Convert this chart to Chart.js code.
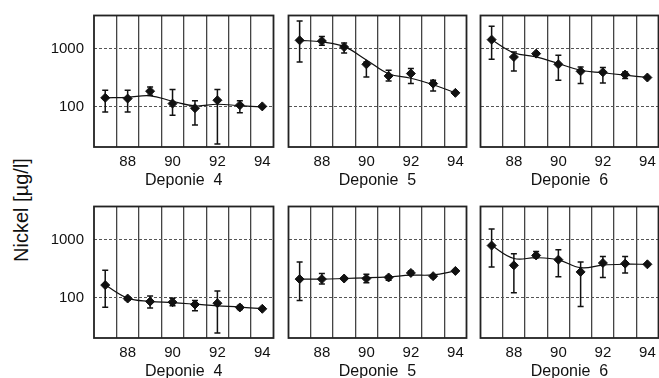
<!DOCTYPE html>
<html>
<head>
<meta charset="utf-8">
<script src="https://cdn.jsdelivr.net/npm/chart.js@4.4.0/dist/chart.umd.min.js"></script>
<style>
  body { margin: 0; background: #fff; width: 659px; height: 378px; overflow: hidden; position: relative; font-family: 'Liberation Sans', Arial, sans-serif; }
  .panel { position: absolute; }
  #ytitle { position: absolute; left: 21px; top: 210px; transform: translate(-50%, -50%) rotate(-90deg); font-size: 20px; white-space: nowrap; color: #111; }
</style>
</head>
<body>
<div id="ytitle">Nickel [µg/l]</div>
<script>
const years = [87, 88, 89, 90, 91, 92, 93, 94];
const yTicks = [100, 1000];
const xLabels = [88, 90, 92, 94];
const xGrid = [87.5, 88.5, 89.5, 90.5, 91.5, 92.5, 93.5];

// obere Reihe
const top4 = [143, 139, 186, 114, 95, 130, 107, 102];
const top4Lo = [82, 82, 159, 72, 49, 23, 79, null];
const top4Hi = [193, 193, 220, 199, 127, 199, 127, null];
const top4Fit = [143, 146, 155, 125, 104, 111, 105, 100];

const top5 = [1387, 1350, 1063, 538, 340, 373, 251, 174];
const top5Lo = [590, 1140, 840, 326, 279, 251, 188, null];
const top5Hi = [2970, 1620, 1250, 590, 425, 455, 286, null];
const top5Fit = [1390, 1300, 1080, 640, 370, 310, 240, 175];

const top6 = [1426, 718, 820, 538, 408, 393, 359, 319];
const top6Lo = [656, 413, null, 286, 251, 258, 306, null];
const top6Hi = [2410, 875, null, 767, 484, 473, 398, null];
const top6Fit = [1420, 850, 720, 555, 425, 385, 350, 320];

// untere Reihe
const bot4 = [166, 97.5, 86.5, 84.5, 77, 81, 68.5, 65];
const bot4Lo = [69, 91, 67, 73, 60, 25, 63, null];
const bot4Hi = [299, 104, 108, 99, 90, 131, 74, null];
const bot4Fit = [166, 99, 87, 83, 78, 73, 69.5, 65];

const bot5 = [210, 210, 215, 215, 224, 268, 236, 290];
const bot5Lo = [90, 173, null, 182, 200, 250, 222, null];
const bot5Hi = [412, 262, null, 255, 240, 290, 250, null];
const bot5Fit = [210, 210, 215, 221, 230, 245, 248, 290];

const bot6 = [791, 362, 535, 453, 279, 397, 387, 377];
const bot6Lo = [340, 123, 490, 230, 71, 224, 268, null];
const bot6Hi = [1518, 573, 626, 669, 412, 515, 515, null];
const bot6Fit = [790, 475, 490, 450, 330, 365, 378, 377];

const panels = [
  { row: 0, col: 0, name: 'Deponie  4', v: top4, lo: top4Lo, hi: top4Hi, fit: top4Fit },
  { row: 0, col: 1, name: 'Deponie  5', v: top5, lo: top5Lo, hi: top5Hi, fit: top5Fit },
  { row: 0, col: 2, name: 'Deponie  6', v: top6, lo: top6Lo, hi: top6Hi, fit: top6Fit },
  { row: 1, col: 0, name: 'Deponie  4', v: bot4, lo: bot4Lo, hi: bot4Hi, fit: bot4Fit },
  { row: 1, col: 1, name: 'Deponie  5', v: bot5, lo: bot5Lo, hi: bot5Hi, fit: bot5Fit },
  { row: 1, col: 2, name: 'Deponie  6', v: bot6, lo: bot6Lo, hi: bot6Hi, fit: bot6Fit }
];

const colLeft = [94, 287, 479];
const rowTop = [14, 205];
const areaW = 181, areaH = 133, xAxisH = 43;
const ink = '#111';
const font = "'Liberation Sans', Arial, sans-serif";

// Fehlerbalken + Rahmen
const errorBars = {
  id: 'errorBars',
  beforeDatasetsDraw(chart) {
    const { ctx, chartArea: a, scales: { x, y } } = chart;
    const ds = chart.data.datasets[1];
    ctx.save();
    ctx.strokeStyle = '#222';
    ctx.lineWidth = 1.8;
    ctx.strokeRect(a.left, a.top, a.right - a.left, a.bottom - a.top);
    ctx.strokeStyle = ink;
    ctx.lineWidth = 1.5;
    years.forEach((yr, i) => {
      if (ds.errLo[i] == null) return;
      const px = x.getPixelForValue(yr);
      const p1 = y.getPixelForValue(ds.errLo[i]);
      const p2 = y.getPixelForValue(ds.errHi[i]);
      ctx.beginPath();
      ctx.moveTo(px, p1); ctx.lineTo(px, p2);
      ctx.moveTo(px - 3, p1); ctx.lineTo(px + 3, p1);
      ctx.moveTo(px - 3, p2); ctx.lineTo(px + 3, p2);
      ctx.stroke();
    });
    ctx.restore();
  }
};

panels.forEach(p => {
  const yw = p.col === 0 ? 60 : 4;
  const div = document.createElement('div');
  div.className = 'panel';
  div.style.left = (colLeft[p.col] - yw) + 'px';
  div.style.top = (rowTop[p.row] - 4) + 'px';
  const cv = document.createElement('canvas');
  cv.width = yw + areaW + 4;
  cv.height = 4 + areaH + xAxisH;
  div.appendChild(cv);
  document.body.appendChild(div);

  new Chart(cv, {
    type: 'line',
    data: {
      datasets: [
        {
          data: years.map((yr, i) => ({ x: yr, y: p.fit[i] })),
          borderColor: ink,
          borderWidth: 1.2,
          pointRadius: 0,
          tension: 0.4,
          fill: false
        },
        {
          data: years.map((yr, i) => ({ x: yr, y: p.v[i] })),
          showLine: false,
          pointStyle: 'rectRot',
          pointRadius: 4.5,
          pointBackgroundColor: ink,
          pointBorderColor: ink,
          errLo: p.lo,
          errHi: p.hi
        }
      ]
    },
    options: {
      responsive: false,
      animation: false,
      layout: { padding: { left: 0, right: 4, top: 4, bottom: 0 } },
      plugins: { legend: { display: false }, tooltip: { enabled: false } },
      scales: {
        x: {
          type: 'linear',
          min: 86.5,
          max: 94.5,
          afterBuildTicks: s => {
            s.ticks = xGrid.concat(xLabels).sort((a, b) => a - b).map(v => ({ value: v }));
          },
          afterFit: s => {
            s.height = xAxisH;
            s.paddingLeft = 0; s.paddingRight = 0;
          },
          grid: {
            color: c => (c.tick && c.tick.value % 1 ? '#444' : 'rgba(0,0,0,0)'),
            lineWidth: 1.3,
            drawTicks: false
          },
          border: { display: false },
          ticks: {
            autoSkip: false,
            maxRotation: 0,
            padding: 6,
            color: ink,
            font: { family: font, size: 15 },
            callback: v => (v % 1 ? '' : String(v))
          },
          title: {
            display: true,
            text: p.name,
            color: ink,
            padding: 0,
            font: { family: font, size: 16 }
          }
        },
        y: {
          type: 'logarithmic',
          min: 20.5,
          max: 3700,
          afterBuildTicks: s => { s.ticks = yTicks.map(v => ({ value: v })); },
          afterFit: s => {
            s.width = yw;
            s.paddingTop = 0; s.paddingBottom = 0;
          },
          grid: { color: '#555', lineWidth: 1, drawTicks: false },
          border: { display: false, dash: [3, 2] },
          ticks: {
            display: p.col === 0,
            padding: 10,
            color: ink,
            font: { family: font, size: 15 },
            callback: v => String(v)
          }
        }
      }
    },
    plugins: [errorBars]
  });
});
</script>
</body>
</html>
